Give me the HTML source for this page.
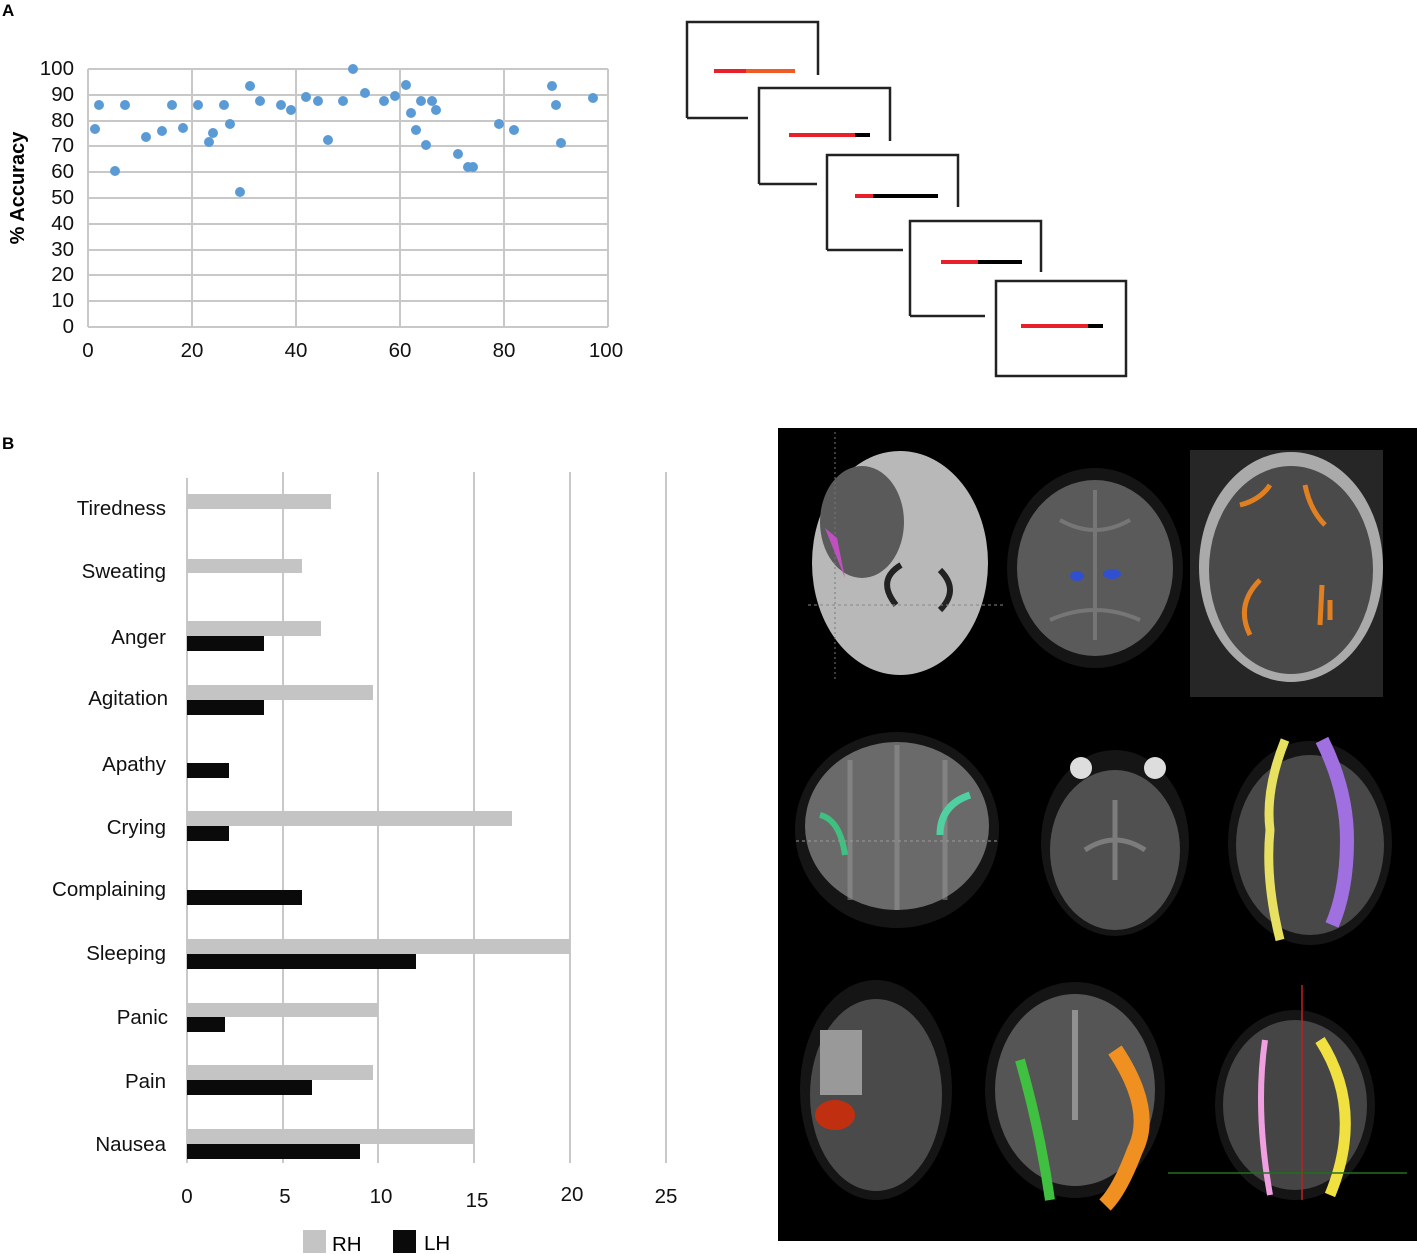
<!DOCTYPE html>
<html><head><meta charset="utf-8"><style>
html,body{margin:0;padding:0;background:#fff;}
svg{display:block;font-family:"Liberation Sans",Arial,sans-serif;}
</style></head><body>
<svg width="1417" height="1254" viewBox="0 0 1417 1254" xmlns="http://www.w3.org/2000/svg">
<rect width="1417" height="1254" fill="#fff"/>
<!-- Panel A -->
<text x="2" y="16" font-size="17" font-weight="bold">A</text>
<g stroke="#c8c8c8" stroke-width="2">
<line x1="88" y1="69" x2="608" y2="69"/><line x1="88" y1="95" x2="608" y2="95"/><line x1="88" y1="121" x2="608" y2="121"/><line x1="88" y1="146" x2="608" y2="146"/><line x1="88" y1="172" x2="608" y2="172"/><line x1="88" y1="198" x2="608" y2="198"/><line x1="88" y1="224" x2="608" y2="224"/><line x1="88" y1="250" x2="608" y2="250"/><line x1="88" y1="275" x2="608" y2="275"/><line x1="88" y1="301" x2="608" y2="301"/><line x1="88" y1="327" x2="608" y2="327"/>
<line x1="88" y1="69" x2="88" y2="327"/><line x1="192" y1="69" x2="192" y2="327"/><line x1="296" y1="69" x2="296" y2="327"/><line x1="400" y1="69" x2="400" y2="327"/><line x1="504" y1="69" x2="504" y2="327"/><line x1="608" y1="69" x2="608" y2="327"/>
</g>
<g font-size="20.5" text-anchor="end" fill="#111">
<text x="74" y="75">100</text><text x="74" y="101">90</text><text x="74" y="127">80</text><text x="74" y="152">70</text><text x="74" y="178">60</text><text x="74" y="204">50</text><text x="74" y="230">40</text><text x="74" y="256">30</text><text x="74" y="281">20</text><text x="74" y="307">10</text><text x="74" y="333">0</text>
</g>
<g font-size="20.5" text-anchor="middle" fill="#111">
<text x="88" y="357">0</text><text x="192" y="357">20</text><text x="296" y="357">40</text><text x="400" y="357">60</text><text x="504" y="357">80</text><text x="606" y="357">100</text>
</g>
<text transform="translate(24,188) rotate(-90)" font-size="20" font-weight="bold" text-anchor="middle">% Accuracy</text>
<g fill="#5b9bd5">
<ellipse cx="95" cy="129" rx="5" ry="5"/><ellipse cx="99" cy="105" rx="5" ry="5"/><ellipse cx="115" cy="171" rx="5" ry="5"/><ellipse cx="125" cy="105" rx="5" ry="5"/><ellipse cx="146" cy="137" rx="5" ry="5"/><ellipse cx="162" cy="131" rx="5" ry="5"/><ellipse cx="172" cy="105" rx="5" ry="5"/><ellipse cx="183" cy="128" rx="5" ry="5"/><ellipse cx="198" cy="105" rx="5" ry="5"/><ellipse cx="209" cy="142" rx="5" ry="5"/><ellipse cx="213" cy="133" rx="5" ry="5"/><ellipse cx="224" cy="105" rx="5" ry="5"/><ellipse cx="230" cy="124" rx="5" ry="5"/><ellipse cx="240" cy="192" rx="5" ry="5"/><ellipse cx="250" cy="86" rx="5" ry="5"/><ellipse cx="260" cy="101" rx="5" ry="5"/><ellipse cx="281" cy="105" rx="5" ry="5"/><ellipse cx="291" cy="110" rx="5" ry="5"/><ellipse cx="306" cy="97" rx="5" ry="5"/><ellipse cx="318" cy="101" rx="5" ry="5"/><ellipse cx="328" cy="140" rx="5" ry="5"/><ellipse cx="343" cy="101" rx="5" ry="5"/><ellipse cx="353" cy="69" rx="5" ry="5"/><ellipse cx="365" cy="93" rx="5" ry="5"/><ellipse cx="384" cy="101" rx="5" ry="5"/><ellipse cx="395" cy="96" rx="5" ry="5"/><ellipse cx="406" cy="85" rx="5" ry="5"/><ellipse cx="411" cy="113" rx="5" ry="5"/><ellipse cx="416" cy="130" rx="5" ry="5"/><ellipse cx="421" cy="101" rx="5" ry="5"/><ellipse cx="426" cy="145" rx="5" ry="5"/><ellipse cx="432" cy="101" rx="5" ry="5"/><ellipse cx="436" cy="110" rx="5" ry="5"/><ellipse cx="458" cy="154" rx="5" ry="5"/><ellipse cx="468" cy="167" rx="5" ry="5"/><ellipse cx="473" cy="167" rx="5" ry="5"/><ellipse cx="499" cy="124" rx="5" ry="5"/><ellipse cx="514" cy="130" rx="5" ry="5"/><ellipse cx="552" cy="86" rx="5" ry="5"/><ellipse cx="556" cy="105" rx="5" ry="5"/><ellipse cx="561" cy="143" rx="5" ry="5"/><ellipse cx="593" cy="98" rx="5" ry="5"/>
</g>
<!-- stimulus boxes -->
<g fill="none" stroke="#222" stroke-width="2.5">
<path d="M687 118 V22 H818 V75"/><path d="M687 118 H748"/>
<path d="M759 184 V88 H890 V141"/><path d="M759 184 H817"/>
<path d="M827 250 V155 H958 V207"/><path d="M827 250 H903"/>
<path d="M910 316 V221 H1041 V272"/><path d="M910 316 H985"/>
<rect x="996" y="281" width="130" height="95"/>
</g>
<g stroke-width="4">
<line x1="714" y1="71" x2="746" y2="71" stroke="#e8202a"/><line x1="746" y1="71" x2="795" y2="71" stroke="#f05a24"/>
<line x1="789" y1="135" x2="855" y2="135" stroke="#e8202a"/><line x1="855" y1="135" x2="870" y2="135" stroke="#000"/>
<line x1="855" y1="196" x2="873" y2="196" stroke="#e8202a"/><line x1="873" y1="196" x2="938" y2="196" stroke="#000"/>
<line x1="941" y1="262" x2="978" y2="262" stroke="#e8202a"/><line x1="978" y1="262" x2="1022" y2="262" stroke="#000"/>
<line x1="1021" y1="326" x2="1088" y2="326" stroke="#e8202a"/><line x1="1088" y1="326" x2="1103" y2="326" stroke="#000"/>
</g>
<!-- Panel B -->
<text x="2" y="449" font-size="17" font-weight="bold">B</text>
<g stroke="#b5b5b5" stroke-width="1.5">
<line x1="187" y1="478" x2="187" y2="1163"/><line x1="283" y1="472" x2="283" y2="1163"/><line x1="378" y1="472" x2="378" y2="1163"/><line x1="474" y1="472" x2="474" y2="1163"/><line x1="570" y1="472" x2="570" y2="1163"/><line x1="666" y1="472" x2="666" y2="1163"/>
</g>
<g fill="#c4c4c4">
<rect x="187" y="494" width="144" height="15"/><rect x="187" y="559" width="115" height="14"/><rect x="187" y="621" width="134" height="15"/><rect x="187" y="685" width="186" height="15"/><rect x="187" y="811" width="325" height="15"/><rect x="187" y="939" width="383" height="15"/><rect x="187" y="1003" width="191" height="14"/><rect x="187" y="1065" width="186" height="15"/><rect x="187" y="1129" width="287" height="15"/>
</g>
<g fill="#0a0a0a">
<rect x="187" y="636" width="77" height="15"/><rect x="187" y="700" width="77" height="15"/><rect x="187" y="763" width="42" height="15"/><rect x="187" y="826" width="42" height="15"/><rect x="187" y="890" width="115" height="15"/><rect x="187" y="954" width="229" height="15"/><rect x="187" y="1017" width="38" height="15"/><rect x="187" y="1080" width="125" height="15"/><rect x="187" y="1144" width="173" height="15"/>
</g>
<g font-size="20.5" text-anchor="end" fill="#111">
<text x="166" y="515">Tiredness</text><text x="166" y="578">Sweating</text><text x="166" y="644">Anger</text><text x="168" y="705">Agitation</text><text x="166" y="771">Apathy</text><text x="166" y="834">Crying</text><text x="166" y="896">Complaining</text><text x="166" y="960">Sleeping</text><text x="168" y="1024">Panic</text><text x="166" y="1088">Pain</text><text x="166" y="1151">Nausea</text>
</g>
<g font-size="20.5" text-anchor="middle" fill="#111">
<text x="187" y="1203">0</text><text x="285" y="1203">5</text><text x="381" y="1203">10</text><text x="477" y="1207">15</text><text x="572" y="1201">20</text><text x="666" y="1203">25</text>
</g>
<rect x="303" y="1230" width="23" height="23" fill="#c4c4c4"/><text x="332" y="1251" font-size="20.5">RH</text>
<rect x="393" y="1230" width="23" height="23" fill="#0a0a0a"/><text x="424" y="1250" font-size="20.5">LH</text>
<!-- MRI panel -->
<rect x="778" y="428" width="639" height="813" fill="#000"/>
<!-- brain 1 -->
<ellipse cx="900" cy="563" rx="88" ry="112" fill="#b8b8b8"/>
<ellipse cx="862" cy="522" rx="42" ry="56" fill="#5a5a5a"/>
<path d="M896 605 q-20 -25 5 -40 M940 610 q20 -20 0 -40" stroke="#222" stroke-width="6" fill="none"/>
<line x1="808" y1="605" x2="1005" y2="605" stroke="#888" stroke-dasharray="3,3"/>
<line x1="835" y1="432" x2="835" y2="680" stroke="#777" stroke-dasharray="2,3"/>
<path d="M825 528 l20 50 l-8 -40 z" fill="#c050c0"/>
<!-- brain 2 -->
<ellipse cx="1095" cy="568" rx="88" ry="100" fill="#151515"/>
<ellipse cx="1095" cy="568" rx="78" ry="88" fill="#5a5a5a"/>
<path d="M1060 520 q35 20 70 0 M1050 620 q45 -20 90 0 M1095 490 v150" stroke="#888" stroke-width="4" fill="none" opacity="0.6"/>
<ellipse cx="1077" cy="576" rx="7" ry="5" fill="#3050d0"/><ellipse cx="1112" cy="574" rx="9" ry="5" fill="#3050d0"/>
<!-- brain 3 -->
<rect x="1190" y="450" width="193" height="247" fill="#262626"/>
<ellipse cx="1291" cy="567" rx="92" ry="115" fill="#aaa"/>
<ellipse cx="1291" cy="570" rx="82" ry="104" fill="#4a4a4a"/>
<g stroke="#e08020" stroke-width="5" fill="none">
<path d="M1240 505 q20 -5 30 -20"/><path d="M1305 485 q5 25 20 40"/><path d="M1250 635 q-15 -30 10 -55"/><path d="M1322 585 l-2 40"/><path d="M1330 600 v20"/>
</g>
<!-- brain 4 -->
<ellipse cx="897" cy="830" rx="102" ry="98" fill="#151515"/>
<ellipse cx="897" cy="826" rx="92" ry="84" fill="#6a6a6a"/>
<path d="M897 745 v165 M850 760 v140 M945 760 v140" stroke="#999" stroke-width="5" fill="none" opacity="0.5"/>
<path d="M820 815 q20 5 25 40" stroke="#40c080" stroke-width="6" fill="none"/>
<path d="M970 795 q-30 10 -30 40" stroke="#50d0a0" stroke-width="7" fill="none"/>
<line x1="796" y1="841" x2="998" y2="841" stroke="#999" stroke-dasharray="3,3"/>
<!-- brain 5 -->
<ellipse cx="1115" cy="843" rx="74" ry="93" fill="#151515"/>
<ellipse cx="1115" cy="850" rx="65" ry="80" fill="#505050"/>
<path d="M1085 850 q30 -20 60 0 M1115 800 v80" stroke="#999" stroke-width="5" fill="none" opacity="0.6"/>
<circle cx="1081" cy="768" r="11" fill="#ddd"/><circle cx="1155" cy="768" r="11" fill="#ddd"/>
<!-- brain 6 -->
<ellipse cx="1310" cy="843" rx="82" ry="102" fill="#151515"/>
<ellipse cx="1310" cy="845" rx="74" ry="90" fill="#484848"/>
<path d="M1285 740 q-20 50 -15 90 q-5 50 10 110" stroke="#e8e060" stroke-width="9" fill="none"/>
<path d="M1322 740 q25 50 25 100 q0 50 -15 85" stroke="#a070e0" stroke-width="14" fill="none"/>
<!-- brain 7 -->
<ellipse cx="876" cy="1090" rx="76" ry="110" fill="#151515"/>
<ellipse cx="876" cy="1095" rx="66" ry="96" fill="#4a4a4a"/>
<rect x="820" y="1030" width="42" height="65" fill="#999"/>
<ellipse cx="835" cy="1115" rx="20" ry="15" fill="#c03010"/>
<!-- brain 8 -->
<ellipse cx="1075" cy="1090" rx="90" ry="108" fill="#151515"/>
<ellipse cx="1075" cy="1090" rx="80" ry="96" fill="#555"/>
<path d="M1075 1010 v110" stroke="#aaa" stroke-width="6" fill="none" opacity="0.7"/>
<path d="M1020 1060 q20 70 30 140" stroke="#40c040" stroke-width="10" fill="none"/>
<path d="M1115 1050 q40 60 20 100 q-15 40 -30 55" stroke="#f09020" stroke-width="16" fill="none"/>
<!-- brain 9 -->
<ellipse cx="1295" cy="1105" rx="80" ry="95" fill="#151515"/>
<ellipse cx="1295" cy="1105" rx="72" ry="85" fill="#454545"/>
<path d="M1265 1040 q-10 70 5 155" stroke="#f0a0e0" stroke-width="6" fill="none"/>
<path d="M1320 1040 q45 70 10 155" stroke="#f0e040" stroke-width="11" fill="none"/>
<line x1="1302" y1="985" x2="1302" y2="1200" stroke="#c02020" stroke-width="1.5"/>
<line x1="1168" y1="1173" x2="1407" y2="1173" stroke="#207020" stroke-width="1.5"/>
</svg>
</body></html>
